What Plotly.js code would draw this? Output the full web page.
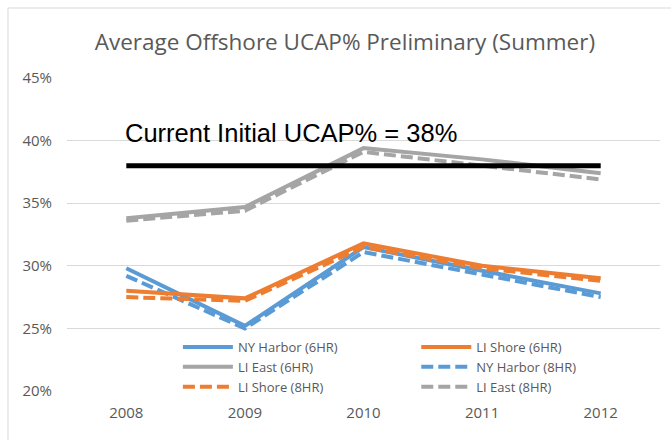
<!DOCTYPE html>
<html>
<head>
<meta charset="utf-8">
<script src="https://cdn.plot.ly/plotly-3.0.1.min.js"></script>
<style>html,body{margin:0;padding:0;background:#fff;}#chart{width:671px;height:440px;}</style>
</head>
<body>
<div id="chart"></div>
<script>
const years = ['2008', '2009', '2010', '2011', '2012'];
const nyHarbor6 = [29.8, 25.2, 31.5, 29.6, 27.8];
const liShore6 = [28.0, 27.4, 31.8, 30.0, 29.0];
const liEast6 = [33.8, 34.7, 39.4, 38.5, 37.4];
const nyHarbor8 = [29.2, 25.0, 31.1, 29.3, 27.5];
const liShore8 = [27.5, 27.2, 31.5, 29.8, 28.8];
const liEast8 = [33.6, 34.4, 39.1, 38.0, 36.9];
const currentUcap = [38, 38, 38, 38, 38];
const yTickVals = [20, 25, 30, 35, 40, 45];
const yTickLabels = ['20%', '25%', '30%', '35%', '40%', '45%'];
const annotationText = 'Current Initial UCAP% = 38%';
const titleText = 'Average Offshore UCAP% Preliminary (Summer)';

const BLUE = '#5B9BD5', ORANGE = '#ED7D31', GRAY = '#A5A5A5';
const DASH = '12px,5px';

function tr(name, y, color, dash, legend, rank) {
  return {
    x: years, y: y, name: name, type: 'scatter', mode: 'lines',
    line: {color: color, width: 4, dash: dash},
    legend: legend, legendrank: rank, hoverinfo: 'skip'
  };
}

const data = [
  tr('LI East (6HR)', liEast6, GRAY, 'solid', 'legend', 2),
  tr('LI East (8HR)', liEast8, GRAY, DASH, 'legend2', 3),
  tr('NY Harbor (6HR)', nyHarbor6, BLUE, 'solid', 'legend', 1),
  tr('NY Harbor (8HR)', nyHarbor8, BLUE, DASH, 'legend2', 2),
  tr('LI Shore (6HR)', liShore6, ORANGE, 'solid', 'legend2', 1),
  tr('LI Shore (8HR)', liShore8, ORANGE, DASH, 'legend', 3),
  {x: years, y: currentUcap, type: 'scatter', mode: 'lines', showlegend: false,
   line: {color: '#000000', width: 5}, hoverinfo: 'skip'}
];

const legendCommon = {
  bgcolor: 'rgba(0,0,0,0)', borderwidth: 0,
  font: {family: 'Open Sans, sans-serif', size: 13, color: '#595959'},
  itemwidth: 50, tracegroupgap: 0, yanchor: 'top', xanchor: 'left',
  traceorder: 'normal'
};

const layout = {
  width: 671, height: 440,
  margin: {l: 67, r: 11, t: 78, b: 49},
  paper_bgcolor: '#ffffff', plot_bgcolor: '#ffffff',
  title: {text: titleText, font: {family: 'Open Sans, sans-serif', size: 22.5, color: '#595959'},
          x: 0.514, xref: 'container', xanchor: 'center', y: 0.905, yref: 'container', yanchor: 'middle'},
  xaxis: {type: 'category', range: [-0.5, 4.5], showgrid: false, zeroline: false, showline: false,
          ticks: '', tickfont: {family: 'Open Sans, sans-serif', size: 15, color: '#595959'},
          ticklabelstandoff: 11, fixedrange: true},
  yaxis: {range: [20, 45], tickmode: 'array', tickvals: yTickVals, ticktext: yTickLabels,
          showgrid: true, gridcolor: '#D9D9D9',
          gridwidth: 1, zeroline: false, showline: false, ticks: '',
          tickfont: {family: 'Open Sans, sans-serif', size: 15, color: '#595959'},
          ticklabelstandoff: 14, fixedrange: true},
  showlegend: true,
  legend: Object.assign({}, legendCommon, {x: 0.187, y: 0.1885}),
  legend2: Object.assign({}, legendCommon, {x: 0.589, y: 0.1885}),
  annotations: [{
    text: annotationText, xref: 'x', yref: 'y', x: 0, y: 40.6, xanchor: 'left', yanchor: 'middle',
    showarrow: false, xshift: -3,
    font: {family: 'Liberation Sans, Arial, sans-serif', size: 25.5, color: '#000000'}
  }],
  shapes: [
    {type: 'line', xref: 'paper', yref: 'paper', x0: -0.0995, x1: 1.02, y0: 1.2236, y1: 1.2236,
     line: {color: '#D9D9D9', width: 1}},
    {type: 'line', xref: 'paper', yref: 'paper', x0: -0.0995, x1: -0.0995, y0: -0.2, y1: 1.2236,
     line: {color: '#D9D9D9', width: 1}}
  ]
};

Plotly.newPlot('chart', data, layout, {displayModeBar: false, staticPlot: true});
</script>
</body>
</html>
